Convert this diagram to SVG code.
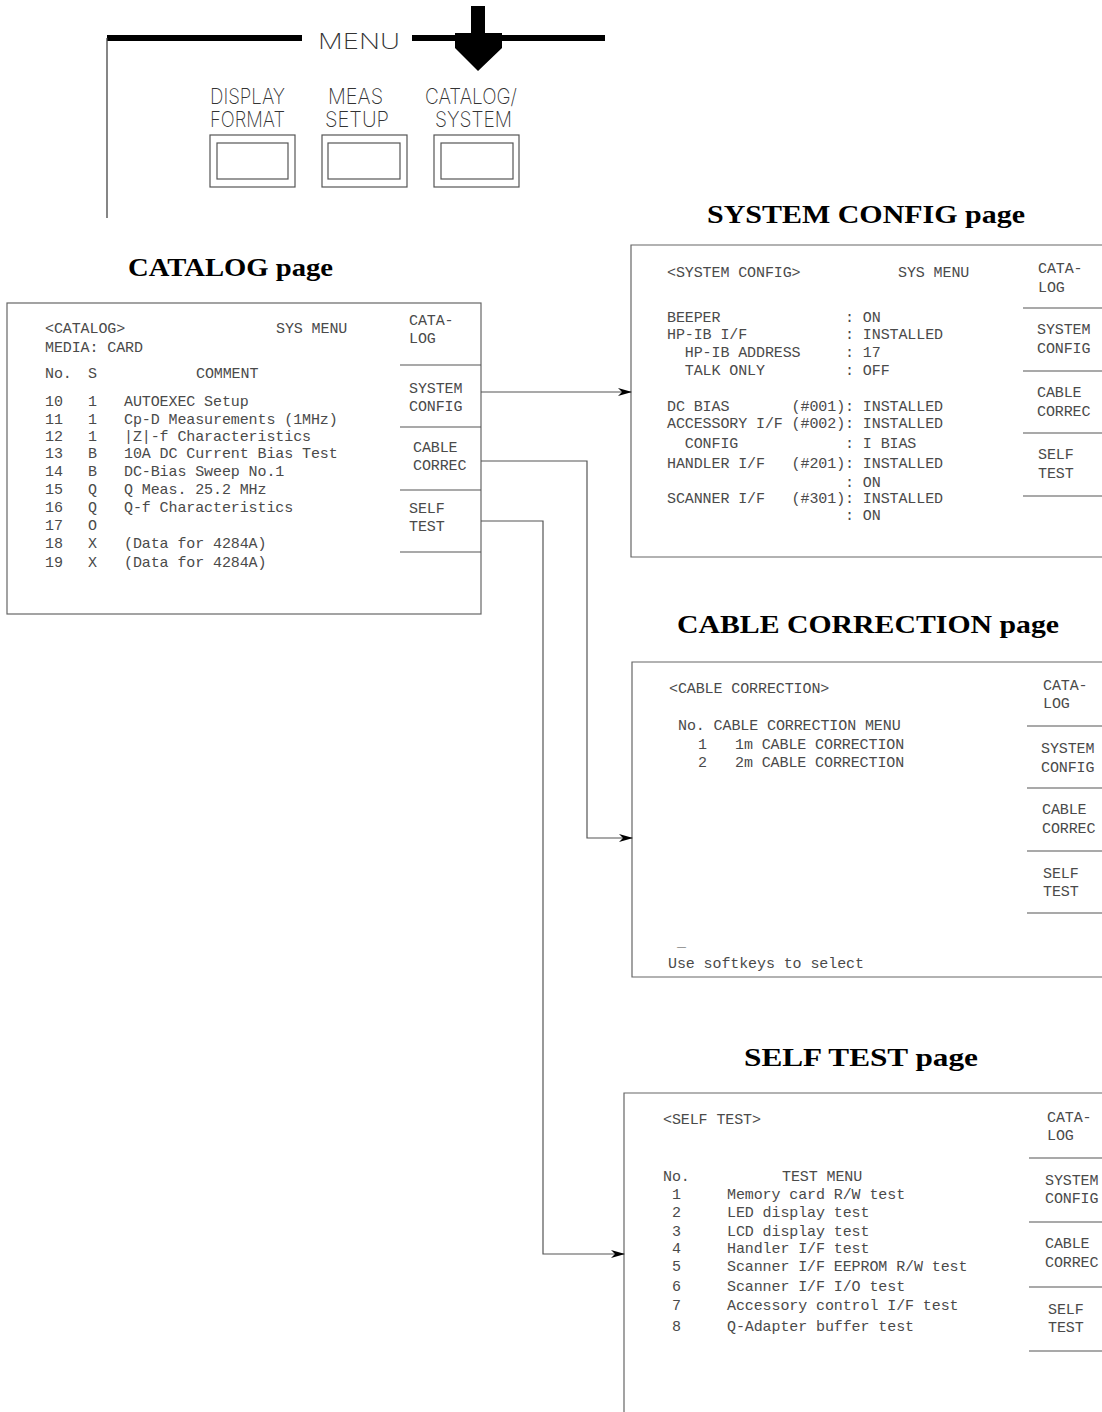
<svg xmlns="http://www.w3.org/2000/svg" width="1102" height="1412" viewBox="0 0 1102 1412">
<defs>
<style>
.scr{font-family:"Liberation Mono","DejaVu Sans Mono",monospace;font-size:15px;letter-spacing:-0.1px;fill:#4a4a4a;white-space:pre}
.hd{font-family:"Liberation Serif","DejaVu Serif",serif;font-weight:bold;font-size:25px;fill:#000}
.key{font-family:"Inter","Liberation Sans",sans-serif;font-weight:200;font-size:21px;fill:#333}
.box{fill:none;stroke:#666;stroke-width:1.2}
.sk{stroke:#555;stroke-width:1.2}
.btn{fill:none;stroke:#555;stroke-width:1.2}
.con{fill:none;stroke:#555;stroke-width:1.2}
</style>
<marker id="ah" markerWidth="14" markerHeight="8" refX="13" refY="4" orient="auto" markerUnits="userSpaceOnUse">
<path d="M0,0 L14,4 L0,8 L4,4 z" fill="#000"/>
</marker>
</defs>
<rect width="1102" height="1412" fill="#fff"/>

<g id="menu-panel">
<line x1="107" y1="38" x2="302" y2="38" stroke="#000" stroke-width="6"/>
<line x1="412" y1="38" x2="605" y2="38" stroke="#000" stroke-width="6"/>
<line x1="107" y1="38" x2="107" y2="218" stroke="#444" stroke-width="1.3"/>
<text class="key" x="318" y="49" font-size="31" textLength="82" lengthAdjust="spacingAndGlyphs">MENU</text>
<path d="M471,6 H485 V33 H502 V48 L478,71 L455,48 V33 H471 Z" fill="#000"/>
</g>

<g id="btn-display">
<text class="key" x="210" y="104" textLength="75" lengthAdjust="spacingAndGlyphs">DISPLAY</text>
<text class="key" x="210" y="127" textLength="75" lengthAdjust="spacingAndGlyphs">FORMAT</text>
<rect class="btn" x="210" y="135" width="85" height="52"/>
<rect class="btn" x="217" y="143" width="71" height="36"/>
</g>
<g id="btn-meas">
<text class="key" x="328" y="104" textLength="55" lengthAdjust="spacingAndGlyphs">MEAS</text>
<text class="key" x="325" y="127" textLength="64" lengthAdjust="spacingAndGlyphs">SETUP</text>
<rect class="btn" x="322" y="135" width="85" height="52"/>
<rect class="btn" x="328" y="143" width="72" height="36"/>
</g>
<g id="btn-catalog">
<text class="key" x="425" y="104" textLength="92" lengthAdjust="spacingAndGlyphs">CATALOG/</text>
<text class="key" x="435" y="127" textLength="77" lengthAdjust="spacingAndGlyphs">SYSTEM</text>
<rect class="btn" x="434" y="135" width="85" height="52"/>
<rect class="btn" x="441" y="143" width="72" height="36"/>
</g>

<g id="catalog-page">
<text class="hd" x="128" y="276" textLength="205" lengthAdjust="spacingAndGlyphs">CATALOG page</text>
<rect class="box" x="7" y="303" width="474" height="311"/>
<line class="sk" x1="400" y1="365" x2="481" y2="365"/>
<line class="sk" x1="400" y1="427" x2="481" y2="427"/>
<line class="sk" x1="400" y1="490" x2="481" y2="490"/>
<line class="sk" x1="400" y1="552" x2="481" y2="552"/>
<text class="scr" x="409" y="325">CATA-</text>
<text class="scr" x="409" y="343">LOG</text>
<text class="scr" x="409" y="393">SYSTEM</text>
<text class="scr" x="409" y="411">CONFIG</text>
<text class="scr" x="413" y="452">CABLE</text>
<text class="scr" x="413" y="470">CORREC</text>
<text class="scr" x="409" y="513">SELF</text>
<text class="scr" x="409" y="531">TEST</text>
<text class="scr" x="45" y="333">&lt;CATALOG&gt;</text>
<text class="scr" x="276" y="333">SYS MENU</text>
<text class="scr" x="45" y="352">MEDIA: CARD</text>
<text class="scr" x="45" y="378">No.</text>
<text class="scr" x="88" y="378">S</text>
<text class="scr" x="196" y="378">COMMENT</text>
<text class="scr" x="45" y="406">10</text><text class="scr" x="88" y="406">1</text><text class="scr" x="124" y="406">AUTOEXEC Setup</text>
<text class="scr" x="45" y="424">11</text><text class="scr" x="88" y="424">1</text><text class="scr" x="124" y="424">Cp-D Measurements (1MHz)</text>
<text class="scr" x="45" y="441">12</text><text class="scr" x="88" y="441">1</text><text class="scr" x="124" y="441">|Z|-f Characteristics</text>
<text class="scr" x="45" y="458">13</text><text class="scr" x="88" y="458">B</text><text class="scr" x="124" y="458">10A DC Current Bias Test</text>
<text class="scr" x="45" y="476">14</text><text class="scr" x="88" y="476">B</text><text class="scr" x="124" y="476">DC-Bias Sweep No.1</text>
<text class="scr" x="45" y="494">15</text><text class="scr" x="88" y="494">Q</text><text class="scr" x="124" y="494">Q Meas. 25.2 MHz</text>
<text class="scr" x="45" y="512">16</text><text class="scr" x="88" y="512">Q</text><text class="scr" x="124" y="512">Q-f Characteristics</text>
<text class="scr" x="45" y="530">17</text><text class="scr" x="88" y="530">O</text>
<text class="scr" x="45" y="548">18</text><text class="scr" x="88" y="548">X</text><text class="scr" x="124" y="548">(Data for 4284A)</text>
<text class="scr" x="45" y="567">19</text><text class="scr" x="88" y="567">X</text><text class="scr" x="124" y="567">(Data for 4284A)</text>
</g>

<g id="system-config-page">
<text class="hd" x="707" y="223" textLength="318" lengthAdjust="spacingAndGlyphs">SYSTEM CONFIG page</text>
<path class="box" d="M1103,245 H631 V557 H1103"/>
<line class="sk" x1="1023" y1="308" x2="1102" y2="308"/>
<line class="sk" x1="1023" y1="371" x2="1102" y2="371"/>
<line class="sk" x1="1023" y1="433" x2="1102" y2="433"/>
<line class="sk" x1="1023" y1="496" x2="1102" y2="496"/>
<text class="scr" x="1038" y="273">CATA-</text>
<text class="scr" x="1038" y="292">LOG</text>
<text class="scr" x="1037" y="334">SYSTEM</text>
<text class="scr" x="1037" y="353">CONFIG</text>
<text class="scr" x="1037" y="397">CABLE</text>
<text class="scr" x="1037" y="416">CORREC</text>
<text class="scr" x="1038" y="459">SELF</text>
<text class="scr" x="1038" y="478">TEST</text>
<text class="scr" x="667" y="277">&lt;SYSTEM CONFIG&gt;</text>
<text class="scr" x="898" y="277">SYS MENU</text>
<text class="scr" x="667" y="322">BEEPER              : ON</text>
<text class="scr" x="667" y="339">HP-IB I/F           : INSTALLED</text>
<text class="scr" x="667" y="357">  HP-IB ADDRESS     : 17</text>
<text class="scr" x="667" y="375">  TALK ONLY         : OFF</text>
<text class="scr" x="667" y="411">DC BIAS       (#001): INSTALLED</text>
<text class="scr" x="667" y="428">ACCESSORY I/F (#002): INSTALLED</text>
<text class="scr" x="667" y="448">  CONFIG            : I BIAS</text>
<text class="scr" x="667" y="468">HANDLER I/F   (#201): INSTALLED</text>
<text class="scr" x="667" y="487">                    : ON</text>
<text class="scr" x="667" y="503">SCANNER I/F   (#301): INSTALLED</text>
<text class="scr" x="667" y="520">                    : ON</text>
</g>

<g id="cable-correction-page">
<text class="hd" x="677" y="633" textLength="382" lengthAdjust="spacingAndGlyphs">CABLE CORRECTION page</text>
<path class="box" d="M1103,662 H632 V977 H1103"/>
<line class="sk" x1="1027" y1="726" x2="1102" y2="726"/>
<line class="sk" x1="1027" y1="788" x2="1102" y2="788"/>
<line class="sk" x1="1027" y1="851" x2="1102" y2="851"/>
<line class="sk" x1="1027" y1="913" x2="1102" y2="913"/>
<text class="scr" x="1043" y="690">CATA-</text>
<text class="scr" x="1043" y="708">LOG</text>
<text class="scr" x="1041" y="753">SYSTEM</text>
<text class="scr" x="1041" y="772">CONFIG</text>
<text class="scr" x="1042" y="814">CABLE</text>
<text class="scr" x="1042" y="833">CORREC</text>
<text class="scr" x="1043" y="878">SELF</text>
<text class="scr" x="1043" y="896">TEST</text>
<text class="scr" x="669" y="693">&lt;CABLE CORRECTION&gt;</text>
<text class="scr" x="678" y="730">No. CABLE CORRECTION MENU</text>
<text class="scr" x="698" y="749">1</text><text class="scr" x="735" y="749">1m CABLE CORRECTION</text>
<text class="scr" x="698" y="767">2</text><text class="scr" x="735" y="767">2m CABLE CORRECTION</text>
<text class="scr" x="677" y="946">_</text>
<text class="scr" x="668" y="968">Use softkeys to select</text>
</g>

<g id="self-test-page">
<text class="hd" x="744" y="1066" textLength="234" lengthAdjust="spacingAndGlyphs">SELF TEST page</text>
<path class="box" d="M1103,1093 H624 V1413"/>
<line class="sk" x1="1029" y1="1158" x2="1102" y2="1158"/>
<line class="sk" x1="1029" y1="1222" x2="1102" y2="1222"/>
<line class="sk" x1="1029" y1="1287" x2="1102" y2="1287"/>
<line class="sk" x1="1029" y1="1351" x2="1102" y2="1351"/>
<text class="scr" x="1047" y="1122">CATA-</text>
<text class="scr" x="1047" y="1140">LOG</text>
<text class="scr" x="1045" y="1185">SYSTEM</text>
<text class="scr" x="1045" y="1203">CONFIG</text>
<text class="scr" x="1045" y="1248">CABLE</text>
<text class="scr" x="1045" y="1267">CORREC</text>
<text class="scr" x="1048" y="1314">SELF</text>
<text class="scr" x="1048" y="1332">TEST</text>
<text class="scr" x="663" y="1124">&lt;SELF TEST&gt;</text>
<text class="scr" x="663" y="1181">No.</text>
<text class="scr" x="782" y="1181">TEST MENU</text>
<text class="scr" x="672" y="1199">1</text><text class="scr" x="727" y="1199">Memory card R/W test</text>
<text class="scr" x="672" y="1217">2</text><text class="scr" x="727" y="1217">LED display test</text>
<text class="scr" x="672" y="1236">3</text><text class="scr" x="727" y="1236">LCD display test</text>
<text class="scr" x="672" y="1253">4</text><text class="scr" x="727" y="1253">Handler I/F test</text>
<text class="scr" x="672" y="1271">5</text><text class="scr" x="727" y="1271">Scanner I/F EEPROM R/W test</text>
<text class="scr" x="672" y="1291">6</text><text class="scr" x="727" y="1291">Scanner I/F I/O test</text>
<text class="scr" x="672" y="1310">7</text><text class="scr" x="727" y="1310">Accessory control I/F test</text>
<text class="scr" x="672" y="1331">8</text><text class="scr" x="727" y="1331">Q-Adapter buffer test</text>
</g>

<g id="connectors">
<path class="con" d="M481,392 H631" marker-end="url(#ah)"/>
<path class="con" d="M481,461 H587 V838 H632" marker-end="url(#ah)"/>
<path class="con" d="M481,521 H543 V1254 H624" marker-end="url(#ah)"/>
</g>
</svg>
